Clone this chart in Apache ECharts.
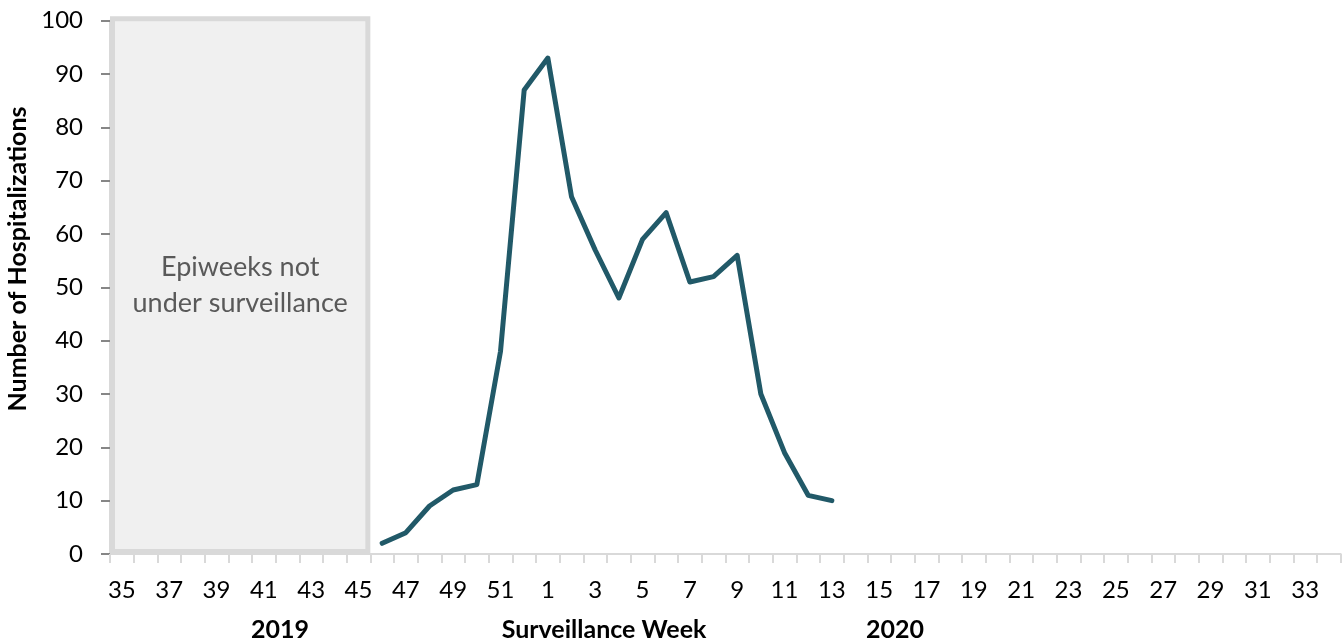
<!DOCTYPE html>
<html>
<head>
<meta charset="utf-8">
<script src="https://cdn.jsdelivr.net/npm/echarts@6/dist/echarts.min.js"></script>
<style>
html,body{margin:0;padding:0;background:#fff;}
#chart{width:1344px;height:644px;}
</style>
</head>
<body>
<div id="chart"></div>
<script>
// Surveillance weeks: 2019 weeks 35-52, 2020 weeks 1-34
const weeks2019 = [35,36,37,38,39,40,41,42,43,44,45,46,47,48,49,50,51,52];
const weeks2020 = [1,2,3,4,5,6,7,8,9,10,11,12,13,14,15,16,17,18,19,20,21,22,23,24,25,26,27,28,29,30,31,32,33,34];
const categories = weeks2019.concat(weeks2020).map(String);

// Hospitalizations per week (null = no data)
const hosp2019 = [null,null,null,null,null,null,null,null,null,null,null,2,4,9,12,13,38,87];
const hosp2020 = [93,67,57,48,59,64,51,52,56,30,19,11,10,null,null,null,null,null,null,null,null,null,null,null,null,null,null,null,null,null,null,null,null,null];
const hospitalizations = hosp2019.concat(hosp2020);

// Weeks not under surveillance
const unsurveilledStart = '35';
const unsurveilledEnd = '45';
const unsurveilledLabel = 'Epiweeks not\nunder surveillance';

const yTicks = {min: 0, max: 100, interval: 10};
const fontFam = 'Lato, "Open Sans", sans-serif';

const chart = echarts.init(document.getElementById('chart'));
const startIdx = categories.indexOf(unsurveilledStart);
const endIdx = categories.indexOf(unsurveilledEnd);

chart.setOption({
  animation: false,
  backgroundColor: '#ffffff',
  grid: {left: 110, right: 3.3, top: 20.7, bottom: 90, containLabel: false},
  xAxis: {
    type: 'category',
    data: categories,
    boundaryGap: true,
    axisLine: {show: true, lineStyle: {color: '#d9d9d9', width: 2}},
    axisTick: {show: true, interval: 0, length: 9, lineStyle: {color: '#d9d9d9', width: 2}},
    axisLabel: {interval: 1, fontSize: 24, color: '#000', fontFamily: fontFam, margin: 24},
    splitLine: {show: false}
  },
  yAxis: {
    type: 'value',
    min: yTicks.min, max: yTicks.max, interval: yTicks.interval,
    axisLine: {show: true, lineStyle: {color: '#d9d9d9', width: 2}},
    axisTick: {show: true, length: 9, lineStyle: {color: '#868686', width: 2}},
    axisLabel: {fontSize: 24, color: '#000', fontFamily: fontFam, margin: 27},
    splitLine: {show: false}
  },
  graphic: [
    {type: 'text', x: 18, y: 259, rotation: Math.PI / 2, style: {text: 'Number of Hospitalizations', fontSize: 25, fontWeight: 'bold', fontFamily: fontFam, fill: '#000', align: 'center', verticalAlign: 'middle'}},
    {type: 'text', x: 280, y: 630, style: {text: '2019', fontSize: 25, fontWeight: 'bold', fontFamily: fontFam, fill: '#000', align: 'center', verticalAlign: 'middle'}},
    {type: 'text', x: 604, y: 630, style: {text: 'Surveillance Week', fontSize: 25, fontWeight: 'bold', fontFamily: fontFam, fill: '#000', align: 'center', verticalAlign: 'middle'}},
    {type: 'text', x: 895, y: 630, style: {text: '2020', fontSize: 25, fontWeight: 'bold', fontFamily: fontFam, fill: '#000', align: 'center', verticalAlign: 'middle'}}
  ],
  series: [
    {
      type: 'custom',
      z: 1,
      silent: true,
      clip: false,
      data: [[startIdx, endIdx, yTicks.max]],
      renderItem: function (params, api) {
        const p0 = api.coord([api.value(0), api.value(2)]);
        const p1 = api.coord([api.value(1), 0]);
        const bw = api.size([1, 0])[0];
        const x0 = p0[0] - bw / 2;
        const w = p1[0] - p0[0] + bw;
        const h = p1[1] - p0[1];
        return {
          type: 'group',
          children: [
            {type: 'rect', shape: {x: x0 + 2.5, y: p0[1] - 2, width: w - 5, height: h - 0.5},
             style: {fill: '#f0f0f0', stroke: '#d9d9d9', lineWidth: 5}},
            {type: 'text', x: x0 + w / 2, y: p0[1] + h / 2 - 2,
             style: {text: unsurveilledLabel, fontSize: 27, fontFamily: fontFam, fill: '#595959', align: 'center', verticalAlign: 'middle', lineHeight: 36}}
          ]
        };
      }
    },
    {
      type: 'line',
      z: 3,
      data: hospitalizations,
      showSymbol: false,
      symbol: 'none',
      connectNulls: false,
      lineStyle: {color: '#215968', width: 5, cap: 'round', join: 'round'},
      itemStyle: {color: '#215968'}
    }
  ]
});
</script>
</body>
</html>
